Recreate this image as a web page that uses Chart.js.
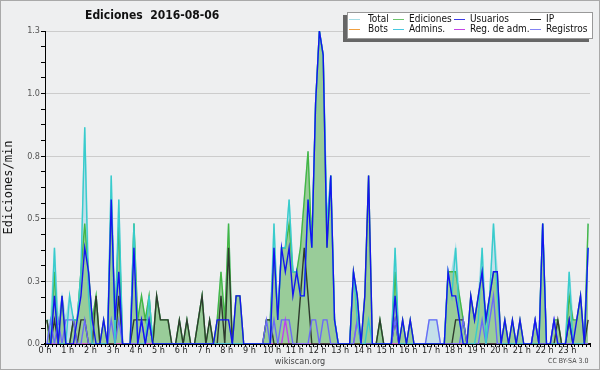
<!DOCTYPE html>
<html>
<head>
<meta charset="utf-8">
<script src="https://cdn.jsdelivr.net/npm/chart.js@4.4.1/dist/chart.umd.min.js"></script>
<style>
  html, body { margin: 0; padding: 0; background: #eeeff0; }
  #wrap { position: relative; width: 600px; height: 370px; overflow: hidden; }
  #frame { position: absolute; left: 0; top: 0; width: 600px; height: 370px; box-sizing: border-box; border: 1px solid #a9a9a9; pointer-events: none; }
  .txt { position: absolute; font-family: "DejaVu Sans Condensed", "Liberation Sans", sans-serif; white-space: nowrap; }
  #title { left: 85px; top: 8px; font-size: 12px; font-weight: bold; color: #111; }
  #site { left: 0; width: 600px; text-align: center; top: 356px; font-size: 9px; color: #444; }
  #lic { left: 548px; top: 357px; font-size: 7px; color: #444; }
  #legend { position: absolute; left: 347px; top: 12px; width: 244px; height: 25px; background: #fff; border: 1px solid #999; box-shadow: -4px 3px 0 #666; }
  #legend .sw { position: absolute; width: 11px; height: 1px; }
  #legend .lb { position: absolute; font-size: 10px; color: #111; line-height: 10px; }
</style>
</head>
<body>
<div id="wrap">
  <canvas id="chart" width="600" height="370"></canvas>
  <div id="title" class="txt">Ediciones&nbsp;&nbsp;2016-08-06</div>
  <div id="legend" class="txt"></div>
  <div id="site" class="txt">wikiscan.org</div>
  <div id="lic" class="txt">CC BY-SA 3.0</div>
  <div id="frame"></div>
</div>
<script>
// one value per 10 minutes, 6 per hour
const hours = ['0 h', '1 h', '2 h', '3 h', '4 h', '5 h', '6 h', '7 h', '8 h', '9 h', '10 h', '11 h',
  '12 h', '13 h', '14 h', '15 h', '16 h', '17 h', '18 h', '19 h', '20 h', '21 h', '22 h', '23 h'];

const total = [
  0.1, 0.1, 0.4, 0.1, 0.2, 0.1,   0.2, 0.1, 0.1, 0.3, 0.9, 0.3,
  0.1, 0.2, 0, 0.1, 0, 0.7,       0.1, 0.6, 0, 0, 0, 0.5,
  0.1, 0.2, 0.1, 0.2, 0, 0.2,     0.1, 0.1, 0.1, 0, 0, 0.1,
  0, 0.1, 0, 0, 0.1, 0.2,         0, 0.1, 0, 0.1, 0.3, 0.1,
  0.5, 0, 0.2, 0.2, 0, 0,         0, 0, 0, 0, 0.1, 0.1,
  0.5, 0.1, 0.4, 0.4, 0.6, 0.3,   0.3, 0.4, 0.6, 0.8, 0.4, 1.0,
  1.3, 1.2, 0.5, 0.7, 0.1, 0,     0, 0, 0, 0.3, 0.2, 0,
  0.2, 0.7, 0, 0, 0.1, 0,         0, 0, 0.4, 0, 0.1, 0,
  0.1, 0, 0, 0, 0, 0.1,           0.1, 0.1, 0, 0, 0.3, 0.3,
  0.4, 0.2, 0.1, 0, 0.2, 0.1,     0.2, 0.4, 0.1, 0.2, 0.5, 0.3,
  0, 0.1, 0, 0.1, 0, 0.1,         0, 0, 0, 0.1, 0, 0.5,
  0, 0, 0.1, 0.1, 0, 0,           0.3, 0.1, 0.1, 0.2, 0, 0.5
];
const ediciones = [
  0.1, 0, 0.3, 0, 0.2, 0,         0, 0.1, 0.1, 0.3, 0.5, 0.3,
  0.1, 0.2, 0, 0.1, 0, 0.6,       0.1, 0.5, 0, 0, 0, 0.5,
  0.1, 0.2, 0.1, 0.2, 0, 0.2,     0.1, 0.1, 0.1, 0, 0, 0.1,
  0, 0.1, 0, 0, 0.1, 0.2,         0, 0.1, 0, 0.1, 0.3, 0.1,
  0.5, 0, 0.2, 0.2, 0, 0,         0, 0, 0, 0, 0.1, 0.1,
  0.4, 0.1, 0.4, 0.4, 0.5, 0.3,   0.3, 0.4, 0.6, 0.8, 0.4, 1.0,
  1.3, 1.2, 0.4, 0.7, 0.1, 0,     0, 0, 0, 0.3, 0.2, 0,
  0.2, 0.7, 0, 0, 0.1, 0,         0, 0, 0.3, 0, 0.1, 0,
  0.1, 0, 0, 0, 0, 0,             0, 0, 0, 0, 0.3, 0.3,
  0.3, 0.2, 0.1, 0, 0.2, 0.1,     0.2, 0.3, 0.1, 0.2, 0.3, 0.3,
  0, 0.1, 0, 0.1, 0, 0.1,         0, 0, 0, 0.1, 0, 0.5,
  0, 0, 0.1, 0.1, 0, 0,           0.2, 0.1, 0.1, 0.2, 0, 0.5
];
const usuarios = [
  0, 0, 0.2, 0, 0.2, 0,           0, 0, 0.1, 0.2, 0.4, 0.3,
  0.1, 0, 0, 0.1, 0, 0.6,         0.1, 0.3, 0, 0, 0, 0.4,
  0, 0.1, 0, 0.1, 0, 0,           0, 0, 0, 0, 0, 0,
  0, 0, 0, 0, 0, 0,               0, 0, 0, 0.1, 0.1, 0.1,
  0.1, 0, 0.2, 0.2, 0, 0,         0, 0, 0, 0, 0, 0,
  0.4, 0.1, 0.4, 0.3, 0.4, 0.2,   0.3, 0.2, 0.2, 0.6, 0.4, 1.0,
  1.3, 1.2, 0.4, 0.7, 0.1, 0,     0, 0, 0, 0.3, 0.2, 0,
  0.2, 0.7, 0, 0, 0, 0,           0, 0, 0.2, 0, 0.1, 0,
  0.1, 0, 0, 0, 0, 0,             0, 0, 0, 0, 0.3, 0.2,
  0.2, 0.1, 0, 0, 0.2, 0.1,       0.2, 0.3, 0.1, 0.2, 0.3, 0.3,
  0, 0.1, 0, 0.1, 0, 0.1,         0, 0, 0, 0.1, 0, 0.5,
  0, 0, 0.1, 0, 0, 0,             0.1, 0, 0.1, 0.2, 0, 0.4
];
const ip = [
  0.1, 0, 0.1, 0, 0, 0,           0, 0.1, 0, 0.1, 0.1, 0,
  0, 0.2, 0, 0, 0, 0,             0, 0.2, 0, 0, 0, 0.1,
  0.1, 0.1, 0.1, 0.1, 0, 0.2,     0.1, 0.1, 0.1, 0, 0, 0.1,
  0, 0.1, 0, 0, 0.1, 0.2,         0, 0.1, 0, 0, 0.2, 0,
  0.4, 0, 0, 0, 0, 0,             0, 0, 0, 0, 0.1, 0.1,
  0, 0, 0, 0, 0, 0,               0, 0.2, 0.4, 0.2, 0, 0,
  0, 0, 0, 0, 0, 0,               0, 0, 0, 0, 0, 0,
  0, 0, 0, 0, 0.1, 0,             0, 0, 0.1, 0, 0, 0,
  0, 0, 0, 0, 0, 0,               0, 0, 0, 0, 0, 0,
  0.1, 0.1, 0.1, 0, 0, 0,         0, 0, 0, 0, 0, 0,
  0, 0, 0, 0, 0, 0,               0, 0, 0, 0, 0, 0,
  0, 0, 0, 0.1, 0, 0,             0.1, 0, 0, 0, 0, 0.1
];
const bots = new Array(144).fill(0);
const admins = [
  0, 0, 0.4, 0, 0, 0,             0.2, 0.1, 0.1, 0.3, 0.9, 0.2,
  0, 0, 0, 0, 0, 0.7,             0, 0.6, 0, 0, 0, 0.5,
  0, 0, 0, 0.2, 0, 0,             0, 0, 0, 0, 0, 0,
  0, 0, 0, 0, 0, 0,               0, 0, 0, 0, 0, 0,
  0, 0, 0, 0, 0, 0,               0, 0, 0, 0, 0, 0,
  0.5, 0.1, 0.4, 0.4, 0.6, 0.3,   0.3, 0.2, 0.2, 0.6, 0.4, 1.0,
  1.3, 1.2, 0.5, 0.7, 0.1, 0,     0, 0, 0, 0.3, 0.1, 0,
  0, 0.1, 0, 0, 0, 0,             0, 0, 0.4, 0, 0, 0,
  0, 0, 0, 0, 0, 0,               0, 0, 0, 0, 0.3, 0.2,
  0.4, 0.1, 0, 0, 0, 0,           0.1, 0.4, 0, 0.2, 0.5, 0.2,
  0, 0, 0, 0, 0, 0,               0, 0, 0, 0, 0, 0.5,
  0, 0, 0, 0, 0, 0,               0.3, 0, 0, 0, 0, 0.4
];
const regAdm = [
  0, 0, 0, 0, 0, 0,               0, 0, 0, 0, 0, 0,
  0, 0, 0, 0, 0, 0,               0, 0, 0, 0, 0, 0,
  0, 0, 0, 0, 0, 0,               0, 0, 0, 0, 0, 0,
  0, 0, 0, 0, 0, 0,               0, 0, 0, 0, 0, 0,
  0, 0, 0, 0, 0, 0,               0, 0, 0, 0, 0, 0,
  0, 0, 0, 0.1, 0, 0,             0, 0, 0, 0, 0, 0,
  0, 0, 0, 0, 0, 0,               0, 0, 0, 0, 0.1, 0,
  0, 0, 0, 0, 0, 0,               0, 0, 0, 0, 0, 0,
  0, 0, 0, 0, 0, 0,               0, 0, 0, 0, 0, 0,
  0, 0, 0, 0, 0, 0,               0, 0, 0, 0, 0, 0,
  0, 0, 0, 0, 0, 0,               0, 0, 0, 0, 0, 0,
  0, 0, 0, 0, 0, 0,               0, 0, 0, 0, 0, 0
];
const registros = [
  0, 0.1, 0, 0.1, 0, 0.1,         0.1, 0.1, 0, 0, 0.1, 0,
  0, 0, 0, 0, 0, 0.1,             0, 0.1, 0, 0, 0, 0,
  0, 0.1, 0, 0.1, 0, 0,           0, 0, 0, 0, 0, 0,
  0, 0, 0, 0, 0, 0,               0, 0, 0, 0, 0, 0,
  0, 0, 0, 0, 0, 0,               0, 0, 0, 0, 0.1, 0,
  0.1, 0, 0.1, 0.1, 0.1, 0,       0, 0, 0, 0, 0.1, 0.1,
  0, 0.1, 0.1, 0, 0, 0,           0, 0, 0, 0, 0.1, 0,
  0, 0, 0, 0, 0, 0,               0, 0, 0.1, 0, 0, 0,
  0, 0, 0, 0, 0, 0.1,             0.1, 0.1, 0, 0, 0, 0,
  0, 0, 0.1, 0, 0, 0,             0, 0.1, 0, 0.1, 0.2, 0,
  0, 0, 0, 0, 0, 0,               0, 0, 0, 0.1, 0, 0,
  0, 0, 0.1, 0, 0, 0,             0, 0, 0, 0, 0, 0
];

const F = '"DejaVu Sans Condensed", "Liberation Sans", sans-serif';

// legend order: row 1 then row 2; "order" = draw order (lower is on top)
const series = [
  { label: 'Total',        data: total,     swatch: '#a6dde6', line: '#a6dde6', fill: '#c4dfea', order: 10 },
  { label: 'Ediciones',    data: ediciones, swatch: '#6cc46c', line: '#44b644', fill: '#99cc99', order: 9 },
  { label: 'Usuarios',     data: usuarios,  swatch: '#3a3ae6', line: '#1414f0', order: 1 },
  { label: 'IP',           data: ip,        swatch: '#222222', line: '#2e3a2e', order: 5 },
  { label: 'Bots',         data: bots,      swatch: '#f0a040', line: '#f0a040', order: 8 },
  { label: 'Admins.',      data: admins,    swatch: '#48c8e0', line: '#38cccc', order: 2 },
  { label: 'Reg. de adm.', data: regAdm,    swatch: '#c444e4', line: '#c040f0', order: 6 },
  { label: 'Registros',    data: registros, swatch: '#8484f4', line: '#6a6af8', order: 4 }
];

const colX = [[1, 20], [45, 61], [106, 122], [182, 198]];
const rowY = [6, 16];
const legend = document.getElementById('legend');
series.forEach(function (s, k) {
  const c = colX[k % 4], r = rowY[Math.floor(k / 4)];
  const sw = document.createElement('div');
  sw.className = 'sw';
  sw.style.left = c[0] + 'px';
  sw.style.top = r + 'px';
  sw.style.background = s.swatch;
  const lb = document.createElement('div');
  lb.className = 'lb';
  lb.style.left = c[1] + 'px';
  lb.style.top = (r - 5) + 'px';
  lb.textContent = s.label;
  legend.appendChild(sw);
  legend.appendChild(lb);
});

const datasets = series.map(function (s) {
  return {
    label: s.label,
    data: s.data.map(function (v, i) { return { x: i + 0.5, y: v }; }),
    borderColor: s.line,
    borderWidth: 1.4,
    backgroundColor: s.fill || s.line,
    fill: s.fill ? 'origin' : false,
    pointRadius: 0,
    tension: 0,
    order: s.order
  };
});

new Chart(document.getElementById('chart'), {
  type: 'line',
  data: { datasets: datasets },
  options: {
    responsive: false,
    animation: false,
    layout: { padding: { top: 31, right: 10, left: 0, bottom: 0 } },
    plugins: { legend: { display: false }, tooltip: { enabled: false } },
    scales: {
      x: {
        type: 'linear', min: 0, max: 144, z: 1,
        border: { display: true, color: '#000', width: 2 },
        grid: { drawOnChartArea: false, drawTicks: true, tickLength: 3, tickColor: '#000', tickWidth: 1 },
        ticks: {
          stepSize: 1, autoSkip: false, maxRotation: 0, padding: -2, color: '#222',
          font: { family: F, size: 9 },
          callback: function (v) { return (v % 6 === 0 && v < 144) ? hours[v / 6] : ''; }
        },
        afterFit: function (s) { s.height = 26; }
      },
      y: {
        min: 0, max: 1.3,
        border: { display: true, color: '#000', width: 1 },
        grid: {
          color: function (c) { return c.index % 4 === 0 ? '#cccccc' : 'rgba(0,0,0,0)'; },
          tickColor: '#000', tickLength: 4, drawTicks: true
        },
        ticks: {
          stepSize: 0.065, autoSkip: false, color: '#555', padding: 1,
          font: { family: F, size: 9 },
          callback: function (v, i) { return i % 4 === 0 ? v.toFixed(1) : ''; }
        },
        title: {
          display: true, text: 'Ediciones/min', color: '#111', padding: { top: 2, bottom: 0 },
          font: { family: '"DejaVu Sans Mono", monospace', size: 12 }
        },
        afterFit: function (s) { s.width = 45; }
      }
    }
  }
});
</script>
</body>
</html>
